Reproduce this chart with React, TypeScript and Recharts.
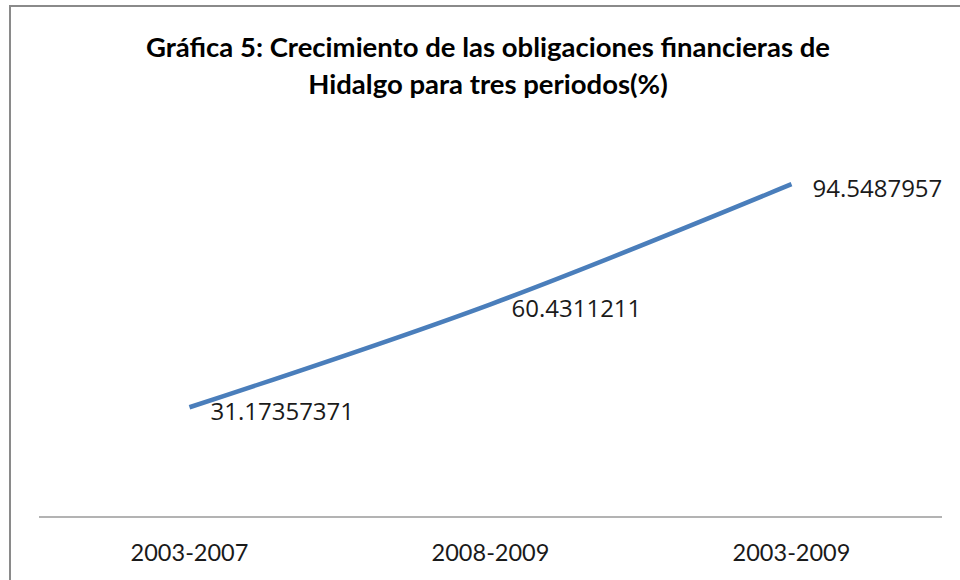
import React from 'react';
import { LineChart, Line, XAxis, YAxis, LabelList } from 'recharts';

const periods = ['2003-2007', '2008-2009', '2003-2009'];
const growth = [31.17357371, 60.4311211, 94.5487957];
const titleLines = [
  'Gráfica 5: Crecimiento de las obligaciones financieras de',
  'Hidalgo para tres periodos(%)',
];

const data = periods.map((p, i) => ({ period: p, value: growth[i] }));

function PeriodTick(props: any) {
  const { x, y, payload } = props;
  return (
    <text
      x={x}
      y={y + 27}
      textAnchor="middle"
      dominantBaseline="central"
      fontFamily="Lato"
      fontSize={23.5}
      fill="#1a1a1a"
    >
      {payload.value}
    </text>
  );
}

function ValueLabel(props: any) {
  const { x, y, width, value } = props;
  return (
    <text
      x={x + (width || 0) / 2 + 21}
      y={y + 3}
      textAnchor="start"
      dominantBaseline="central"
      fontFamily="Open Sans"
      fontSize={24}
      fill="#1a1a1a"
    >
      {value}
    </text>
  );
}

export default function App() {
  return (
    <div style={{ position: 'absolute', left: 0, top: 0, width: 960, height: 580, background: '#fff', overflow: 'hidden' }}>
      <div
        style={{
          position: 'absolute',
          left: 9,
          top: 5,
          width: 1000,
          height: 600,
          borderLeft: '2px solid #8a8a8a',
          borderTop: '2px solid #8a8a8a',
        }}
      />
      {titleLines.map((t, i) => (
        <div
          key={i}
          style={{
            position: 'absolute',
            left: 0,
            width: 976,
            top: 30 + i * 37,
            height: 34,
            lineHeight: '34px',
            textAlign: 'center',
            fontFamily: 'Lato',
            fontWeight: 700,
            fontSize: 27.5,
            color: '#000',
          }}
        >
          {t}
        </div>
      ))}
      <div style={{ position: 'absolute', left: 0, top: 0 }}>
        <LineChart width={960} height={580} data={data} margin={{ top: 165, right: 18, bottom: 33, left: 39 }}>
          <XAxis
            dataKey="period"
            scale="band"
            axisLine={{ stroke: '#9a9a9a', strokeWidth: 1.5 }}
            tickLine={false}
            tick={<PeriodTick />}
            interval={0}
          />
          <YAxis hide domain={[0, 100]} />
          <Line
            type="monotone"
            dataKey="value"
            stroke="#4a7ebb"
            strokeWidth={4.5}
            dot={false}
            isAnimationActive={false}
          >
            <LabelList dataKey="value" content={<ValueLabel />} />
          </Line>
        </LineChart>
      </div>
    </div>
  );
}
